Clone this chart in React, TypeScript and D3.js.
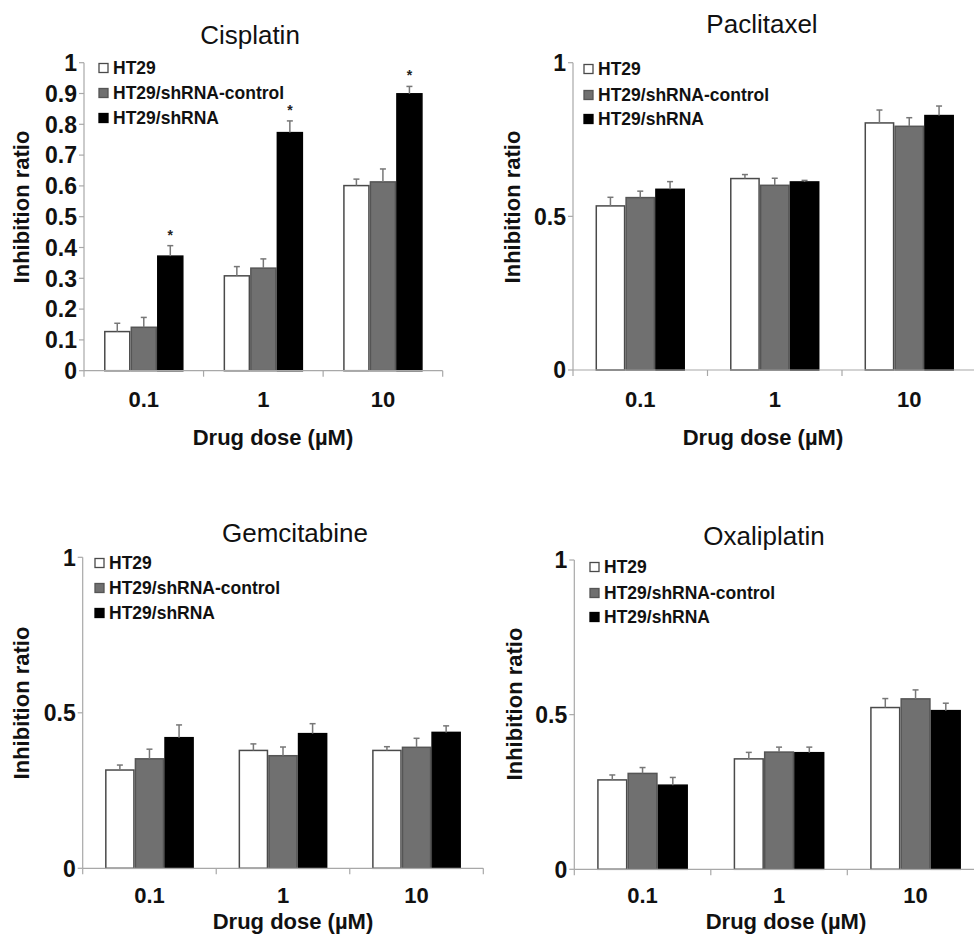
import React from "react";
import * as d3 from "d3";

const doses = ["0.1", "1", "10"];
const seriesNames = ["HT29", "HT29/shRNA-control", "HT29/shRNA"];

// values per series (rows) over doses (columns)
const cisplatinMeans = [
  [0.127, 0.308, 0.601],
  [0.141, 0.333, 0.613],
  [0.372, 0.773, 0.899],
];
const cisplatinErrors = [
  [0.027, 0.03, 0.021],
  [0.032, 0.03, 0.042],
  [0.034, 0.038, 0.024],
];
const cisplatinStars = [
  [false, false, false],
  [false, false, false],
  [true, true, true],
];

const paclitaxelMeans = [
  [0.534, 0.623, 0.804],
  [0.561, 0.601, 0.793],
  [0.588, 0.612, 0.828],
];
const paclitaxelErrors = [
  [0.028, 0.013, 0.042],
  [0.021, 0.023, 0.028],
  [0.025, 0.005, 0.031],
];

const gemcitabineMeans = [
  [0.316, 0.379, 0.379],
  [0.352, 0.362, 0.389],
  [0.42, 0.433, 0.437],
];
const gemcitabineErrors = [
  [0.016, 0.021, 0.012],
  [0.031, 0.028, 0.029],
  [0.041, 0.032, 0.021],
];

const oxaliplatinMeans = [
  [0.289, 0.357, 0.523],
  [0.31, 0.379, 0.551],
  [0.272, 0.377, 0.513],
];
const oxaliplatinErrors = [
  [0.016, 0.021, 0.029],
  [0.019, 0.016, 0.029],
  [0.025, 0.018, 0.024],
];

const cisplatinTicks = [0, 0.1, 0.2, 0.3, 0.4, 0.5, 0.6, 0.7, 0.8, 0.9, 1];
const coarseTicks = [0, 0.5, 1];

const FONT = "Arial, 'Liberation Sans', Helvetica, sans-serif";
const fills = ["#ffffff", "#707070", "#000000"];
const strokes = ["#4a4a4a", "#555555", "#000000"];

type PanelProps = {
  title: string;
  means: number[][];
  errors: number[][];
  stars?: boolean[][];
  ticks: number[];
  layout: {
    x0: number; x1: number; y0: number; y1: number;
    titleX: number; titleY: number;
    legX: number; legRows: number[];
    yLabX: number; yLabY: number;
    xLabX: number; xLabY: number;
    tickY: number;
  };
};

function Panel({ title, means, errors, stars, ticks, layout: L }: PanelProps) {
  const x = d3.scaleBand<string>().domain(doses).range([L.x0, L.x1]).paddingInner(0.335).paddingOuter(0.1675);
  const xs = d3.scaleBand<string>().domain(seriesNames).range([0, x.bandwidth()]);
  const y = d3.scaleLinear().domain([0, 1]).range([L.y0, L.y1]);
  const step = x.step();
  const boundaries = d3.range(doses.length + 1).map((i) => L.x0 + i * step);
  const axisColor = "#a8a8a8";
  return (
    <g>
      <text x={L.titleX} y={L.titleY} textAnchor="middle" fontFamily={FONT} fontSize={26} fill="#111">
        {title}
      </text>
      {/* y axis */}
      <line x1={L.x0} x2={L.x0} y1={y(0)} y2={y(1)} stroke={axisColor} strokeWidth={1.2} />
      {ticks.map((t) => (
        <g key={t}>
          <line x1={L.x0 - 5} x2={L.x0} y1={y(t)} y2={y(t)} stroke={axisColor} strokeWidth={1.2} />
          <text x={L.x0 - 7} y={y(t)} dy="0.36em" textAnchor="end" fontFamily={FONT} fontWeight="bold" fontSize={23} fill="#111">
            {d3.format("~g")(t)}
          </text>
        </g>
      ))}
      {/* bars */}
      {doses.map((dose, di) => (
        <g key={dose} transform={`translate(${x(dose)},0)`}>
          {seriesNames.map((s, si) => {
            const v = means[si][di];
            const e = errors[si][di];
            const bx = xs(s)!;
            const bw = xs.bandwidth();
            const cx = bx + bw / 2;
            return (
              <g key={s}>
                <rect x={bx + 0.75} y={y(v)} width={bw - 1.5} height={y(0) - y(v)} fill={fills[si]} stroke={strokes[si]} strokeWidth={1.5} />
                <line x1={cx} x2={cx} y1={y(v)} y2={y(v + e)} stroke="#777" strokeWidth={1.5} />
                <line x1={cx - 3} x2={cx + 3} y1={y(v + e)} y2={y(v + e)} stroke="#777" strokeWidth={1.5} />
                {stars && stars[si][di] ? (
                  <text x={cx} y={y(v + e) - 6} textAnchor="middle" fontFamily={FONT} fontWeight="bold" fontSize={14} fill="#222">
                    *
                  </text>
                ) : null}
              </g>
            );
          })}
        </g>
      ))}
      {/* x axis */}
      <line x1={L.x0} x2={L.x1} y1={y(0)} y2={y(0)} stroke={axisColor} strokeWidth={1.2} />
      {boundaries.map((bx, i) => (
        <line key={i} x1={bx} x2={bx} y1={y(0)} y2={y(0) + 6} stroke={axisColor} strokeWidth={1.2} />
      ))}
      {doses.map((dose) => (
        <text key={dose} x={x(dose)! + x.bandwidth() / 2} y={L.tickY} textAnchor="middle" fontFamily={FONT} fontWeight="bold" fontSize={22} fill="#111">
          {dose}
        </text>
      ))}
      <text x={L.xLabX} y={L.xLabY} textAnchor="middle" fontFamily={FONT} fontWeight="bold" fontSize={22} fill="#111">
        Drug dose (µM)
      </text>
      <text transform={`translate(${L.yLabX},${L.yLabY}) rotate(-90)`} textAnchor="middle" dy="0.36em" fontFamily={FONT} fontWeight="bold" fontSize={22} fill="#111">
        Inhibition ratio
      </text>
      {/* legend */}
      {seriesNames.map((s, si) => (
        <g key={s}>
          <rect x={L.legX} y={L.legRows[si] - 4.5} width={9} height={9} fill={fills[si]} stroke={strokes[si]} strokeWidth={1.3} />
          <text x={L.legX + 14} y={L.legRows[si]} dy="0.36em" fontFamily={FONT} fontWeight="bold" fontSize={17.5} fill="#111">
            {s}
          </text>
        </g>
      ))}
    </g>
  );
}

export default function App() {
  return (
    <svg width={974} height={935} style={{ position: "absolute", left: 0, top: 0, background: "#fff" }}>
      <rect width={974} height={935} fill="#fff" />
      <Panel
        title="Cisplatin"
        means={cisplatinMeans}
        errors={cisplatinErrors}
        stars={cisplatinStars}
        ticks={cisplatinTicks}
        layout={{ x0: 84, x1: 442.7, y0: 370.7, y1: 62.7, titleX: 250, titleY: 44, legX: 99, legRows: [68, 93, 118], yLabX: 21, yLabY: 207, xLabX: 273, xLabY: 445, tickY: 407 }}
      />
      <Panel
        title="Paclitaxel"
        means={paclitaxelMeans}
        errors={paclitaxelErrors}
        ticks={coarseTicks}
        layout={{ x0: 573, x1: 976.5, y0: 370, y1: 62.7, titleX: 762, titleY: 33, legX: 584, legRows: [69, 95, 119], yLabX: 512, yLabY: 207, xLabX: 763, xLabY: 445, tickY: 407 }}
      />
      <Panel
        title="Gemcitabine"
        means={gemcitabineMeans}
        errors={gemcitabineErrors}
        ticks={coarseTicks}
        layout={{ x0: 82.7, x1: 483.3, y0: 868.3, y1: 557.3, titleX: 295, titleY: 542, legX: 95, legRows: [563, 588, 613], yLabX: 21, yLabY: 703, xLabX: 293, xLabY: 929, tickY: 903 }}
      />
      <Panel
        title="Oxaliplatin"
        means={oxaliplatinMeans}
        errors={oxaliplatinErrors}
        ticks={coarseTicks}
        layout={{ x0: 574.3, x1: 983.8, y0: 869.3, y1: 560, titleX: 764, titleY: 545, legX: 590, legRows: [567, 593, 617], yLabX: 514, yLabY: 704, xLabX: 786, xLabY: 929, tickY: 903 }}
      />
    </svg>
  );
}
